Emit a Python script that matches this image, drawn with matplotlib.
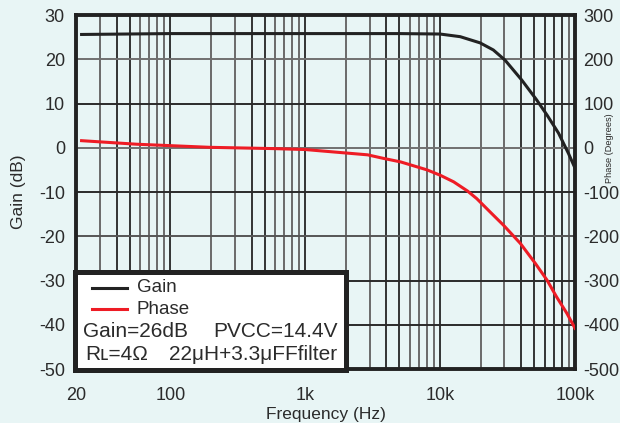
import numpy as np
import matplotlib
matplotlib.use("Agg")
import matplotlib.pyplot as plt
from matplotlib.patches import Rectangle
from matplotlib.lines import Line2D

plt.rcParams['font.family'] = ['Liberation Sans', 'DejaVu Sans']
plt.rcParams['axes.unicode_minus'] = False

# Data
gain_freq = [22, 100, 1000, 5000, 10000, 14100, 19800, 24800, 30300, 40300,
             52000, 62000, 75500, 89500, 100000]
gain_db = [25.6, 25.8, 25.8, 25.8, 25.7, 25.1, 23.7, 22.1, 19.8, 15.3,
           10.8, 7.4, 3.3, -1.3, -4.6]

phase_freq = [22, 56, 195, 600, 1000, 1300, 2900, 3800, 5100, 8000, 10000, 12600,
              16000, 18700, 24000, 29500, 39300, 50700, 62000, 73000, 87000, 100000]
phase_deg = [16, 8, 1, -2, -4, -7, -16, -24, -32, -50, -62, -77,
             -98, -115, -148, -175, -216, -261, -299, -337, -374, -408]

gain_ticks = [30, 20, 10, 0, -10, -20, -30, -40, -50]
phase_ticks = [300, 200, 100, 0, -100, -200, -300, -400, -500]
freq_ticks = [20, 100, 1000, 10000, 100000]
freq_labels = ['20', '100', '1k', '10k', '100k']

bg = '#e8f5f5'
ink = '#222222'
txt = '#2b2b2b'
W, H = 620, 423
fig = plt.figure(figsize=(6.2, 4.23), dpi=100, facecolor=bg)
ax = fig.add_axes([76 / W, 1 - 369 / H, (575 - 76) / W, (369 - 15) / H])
ax.set_facecolor(bg)
ax.set_xscale('log')
ax.set_xlim(20, 100000)
ax.set_ylim(-50, 30)

# grid
for dec in [10, 100, 1000, 10000]:
    for m in range(1, 10):
        f = dec * m
        if f <= 20 or f >= 100000:
            continue
        col = '#333333' if (m in (1, 4, 5) or (dec == 10000 and m in (6, 7, 8))) else '#6a6a6a'
        ax.axvline(f, color=col, lw=1.4, zorder=1)
hcols = {20: '#707070', 10: '#2a2a2a', 0: '#707070', -10: '#2a2a2a',
         -20: '#555555', -30: '#2a2a2a', -40: '#2a2a2a'}
for g, c in hcols.items():
    ax.axhline(g, color=c, lw=1.4, zorder=1)

ax.set_yticks(gain_ticks)
ax.set_xticks(freq_ticks)
ax.set_xticklabels(freq_labels)
ax.xaxis.set_minor_locator(matplotlib.ticker.NullLocator())
ax.tick_params(axis='y', length=0, labelsize=13, colors=txt, pad=8)
ax.tick_params(axis='x', length=0, labelsize=13, colors=txt, pad=13)
ax.set_xlabel('Frequency (Hz)', fontsize=12.5, color=txt, labelpad=2)
ax.set_ylabel('Gain (dB)', fontsize=12.5, color=txt, labelpad=9)
for s in ax.spines.values():
    s.set_linewidth(2.8)
    s.set_color(ink)

ax.plot(gain_freq, gain_db, color=ink, lw=2.2, zorder=3, solid_joinstyle='round')

ax2 = ax.twinx()
ax2.set_ylim(-500, 300)
ax2.set_yticks(phase_ticks)
ax2.tick_params(length=0, labelsize=13, colors=txt, pad=6)
for s in ax2.spines.values():
    s.set_visible(False)
ax2.plot(phase_freq, phase_deg, color='#ee1c25', lw=2.2, zorder=3, solid_joinstyle='round')
fig.text(609 / W, 1 - 148 / H, 'Phase (Degrees)', rotation=90, fontsize=6.6,
         ha='center', va='center', color=txt)

# legend box
x0, x1, y0, y1 = 74.5, 345.5, 271.5, 370
rect = Rectangle((x0 / W, 1 - y1 / H), (x1 - x0) / W, (y1 - y0) / H,
                 transform=fig.transFigure, facecolor='white', edgecolor=ink,
                 lw=3.6, zorder=10)
fig.add_artist(rect)
fig.add_artist(Line2D([92 / W, 127 / W], [1 - 288 / H] * 2, color=ink, lw=2.2,
                      transform=fig.transFigure, zorder=11))
fig.add_artist(Line2D([92 / W, 127 / W], [1 - 309 / H] * 2, color='#ee1c25', lw=2.2,
                      transform=fig.transFigure, zorder=11))
fig.text(137 / W, 1 - 288 / H, 'Gain', fontsize=13.5, va='center', ha='left',
         color=txt, zorder=12)
fig.text(137 / W, 1 - 309 / H, 'Phase', fontsize=13.5, va='center', ha='left',
         color=txt, zorder=12)
fig.text(83 / W, 1 - 331 / H, 'Gain=26dB', fontsize=15, va='center',
         ha='left', color=txt, zorder=12)
fig.text(338 / W, 1 - 331 / H, 'PVCC=14.4V', fontsize=15, va='center',
         ha='right', color=txt, zorder=12)
fig.text(85 / W, 1 - 354 / H, 'R\u029f=4\u03a9', fontsize=15,
         va='center', ha='left', color=txt, zorder=12)
fig.text(337 / W, 1 - 354 / H, '22\u03bcH+3.3\u03bcFFfilter', fontsize=15,
         va='center', ha='right', color=txt, zorder=12)

fig.savefig('out.png', dpi=100, facecolor=bg)
